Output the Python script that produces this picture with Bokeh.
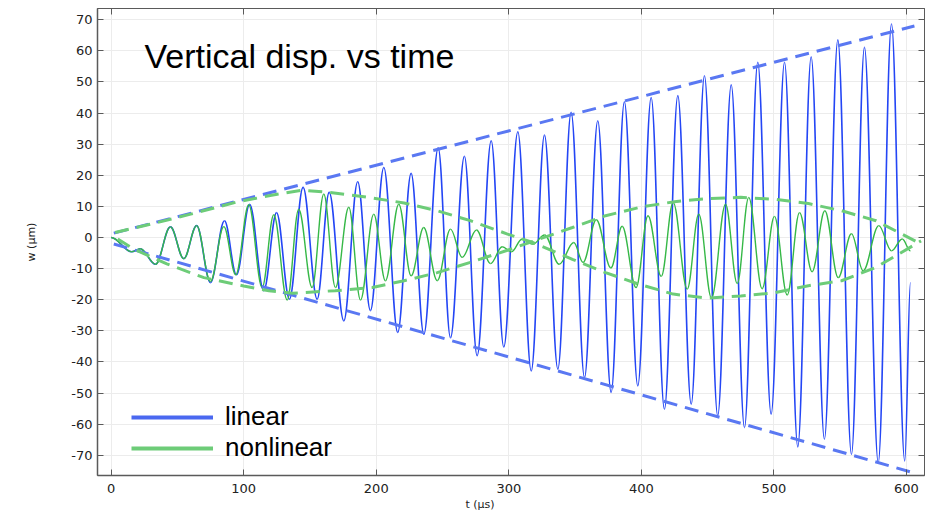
import numpy as np
from bokeh.plotting import figure
from bokeh.models import (ColumnDataSource, Range1d, FixedTicker, LinearAxis, Label,
                          Legend, LegendItem, Title, CustomLabelingPolicy)
from bokeh.embed import file_html
from bokeh.resources import INLINE

# ---------------- data ----------------
x_ticks = [0, 100, 200, 300, 400, 500, 600]
y_ticks = [-70, -60, -50, -40, -30, -20, -10, 0, 10, 20, 30, 40, 50, 60, 70]

# extrema of the linear response, t (µs), w (µm)
lin_t = [0, 15.5, 22, 33.5, 44.7, 54.8, 64.5, 74.9, 85.5, 94.5, 104.5, 115.1, 124.8,
         134.5, 144.8, 155.4, 164.5, 175.5, 186.0, 195.6, 205.7, 216.2, 226.3, 235.9,
         246.7, 256.0, 266.5, 276.1, 286.7, 296.2, 306.8, 316.9, 326.9, 337.0, 347.0,
         357.1, 367.1, 377.2, 387.2, 397.3, 407.4, 417.4, 427.5, 437.6, 447.6, 457.6,
         467.8, 477.8, 487.8, 497.9, 508.0, 518.0, 528.1, 538.1, 548.2, 558.5, 568.3,
         578.7, 588.7, 598.7, 603.0]
lin_w = [0, -4.6, -3.6, -8.6, 3.4, -6.8, 3.8, -14.5, 5.4, -12.0, 10.7, -17.1, 8.0,
         -19.8, 16.1, -19.8, 14.5, -26.8, 17.9, -23.5, 22.5, -30.5, 20.6, -31.1,
         28.8, -32.2, 26.1, -38.0, 31.1, -35.2, 34.0, -42.9, 32.9, -42.3, 40.2,
         -45.0, 37.5, -49.8, 43.6, -47.7, 45.0, -55.2, 45.6, -53.6, 52.0, -57.3,
         49.1, -61.1, 56.3, -56.8, 56.3, -67.3, 58.1, -64.8, 63.5, -69.7, 61.1,
         -72.4, 68.6, -71.8, -14.5]

# extrema of the nonlinear response
non_t = [0, 15.5, 22, 33.5, 44.7, 54.8, 64.5, 74.9, 85.0, 94.0, 103.8, 113.9, 122.7,
         132.8, 141.5, 151.6, 160.4, 169.2, 179.3, 188.1, 198.1, 206.9, 217.0, 226.3,
         235.8, 246.0, 256.0, 264.8, 275.6, 286.2, 295.0, 302.0, 310.0, 318.0, 327.0,
         338.0, 349.0, 356.0, 366.0, 377.0, 385.5, 396.0, 405.0, 415.0, 424.0, 434.6,
         443.3, 452.9, 463.5, 472.3, 481.0, 491.1, 500.4, 510.0, 519.3, 528.8, 538.4,
         548.5, 558.5, 567.3, 579.1, 588.7, 596.8, 603.0]
non_w = [0, -4.6, -3.6, -8.6, 3.4, -6.8, 3.8, -14.2, 3.5, -12.0, 10.5, -16.1, 7.3,
         -20.1, 9.1, -16.1, 14.0, -16.1, 9.7, -20.1, 7.5, -13.9, 10.7, -12.3,
         3.2, -13.9, 2.7, -6.4, 2.4, -8.4, -3.0, -4.6, -0.5, -2.2, 0.8,
         -8.6, -1.6, -8.0, 5.7, -9.8, 3.6, -16.1, 7.0, -12.5, 11.3, -16.6,
         7.5, -19.5, 10.7, -14.8, 12.9, -16.5, 6.8, -18.5, 8.0, -11.0, 8.6,
         -12.9, 1.2, -10.7, 3.8, -4.3, -0.5, -4.3]

# envelopes of the linear response (straight lines)
lin_env_t = [2, 606]
lin_env_upper = [1.4, 68.0]
lin_env_lower = [-2.1, -75.7]

# envelopes of the nonlinear response
non_env1_t = [3, 30, 60, 94, 120, 144, 164, 194, 221, 246, 271, 299, 318, 348, 373,
              398, 424, 450, 475, 500, 526, 551, 577, 611]
non_env1_w = [1.6, 4.3, 7.5, 11.3, 13.5, 15.2, 14.5, 12.9, 11.1, 8.6, 5.4, 1.1, -1.6,
              -7.0, -11.3, -15.0, -18.2, -19.5, -18.8, -17.8, -15.5, -13.9, -9.6, -1.1]
non_env2_t = [5, 17, 42, 70, 100, 119, 137, 169, 197, 221, 246, 271, 299, 323, 348,
              373, 400, 425, 450, 475, 500, 526, 551, 577, 611]
non_env2_w = [-0.5, -3.7, -8.5, -12.9, -15.6, -17.1, -17.9, -17.1, -16.1, -13.9, -11.3,
              -8.0, -4.1, -0.5, 3.2, 7.0, 9.8, 11.5, 12.5, 12.9, 12.3, 10.9, 8.6, 5.4, -2.1]

series_names = ["linear", "nonlinear"]


def bezier_source(t, w, k=0.364):
    t = np.asarray(t, float)
    w = np.asarray(w, float)
    dt = np.diff(t)
    return ColumnDataSource(dict(
        x0=t[:-1], y0=w[:-1], x1=t[1:], y1=w[1:],
        cx0=t[:-1] + k * dt, cy0=w[:-1],
        cx1=t[1:] - k * dt, cy1=w[1:]))


BLUE = "#2446f5"
GREEN = "#36b847"
BLUE_D = "#5a78f2"
GREEN_D = "#6dcc78"
BLUE_L = "#4a68f0"
AXC = "#5a5a5a"
TICKFONT = "DejaVu Sans"

p = figure(width=929, height=513, output_backend="svg", toolbar_location=None,
           x_range=Range1d(-10.3, 613.6), y_range=Range1d(-76.5, 73.6),
           min_border_left=97, min_border_right=5, min_border_top=8, min_border_bottom=38)
p.background_fill_color = "white"
p.border_fill_color = "white"
p.outline_line_color = AXC
p.outline_line_width = 1

xt = FixedTicker(ticks=x_ticks)
yt = FixedTicker(ticks=y_ticks)

for ax, tk, ticks in ((p.xaxis[0], xt, x_ticks), (p.yaxis[0], yt, y_ticks)):
    ax.ticker = tk
    ax.major_tick_in = 6
    ax.major_tick_out = 0
    ax.minor_tick_line_color = None
    ax.major_tick_line_color = AXC
    ax.axis_line_color = AXC
    ax.axis_line_width = 1.5
    ax.major_label_text_font = TICKFONT
    ax.major_label_text_font_size = "13px"
    ax.major_label_text_color = "#222222"
    ax.major_label_overrides = {t: str(t) for t in ticks}

p.xaxis[0].major_label_standoff = 8
p.yaxis[0].major_label_standoff = 5
p.yaxis[0].axis_label = "w (µm)"
p.yaxis[0].axis_label_text_font = TICKFONT
p.yaxis[0].axis_label_text_font_size = "11px"
p.yaxis[0].axis_label_text_font_style = "normal"
p.yaxis[0].axis_label_text_color = "#222222"
p.yaxis[0].axis_label_standoff = 30

hide_all = "for (const i of indices) indices.unset(i)"
for side, tk in (("above", xt), ("right", yt)):
    ax = LinearAxis(ticker=tk, major_tick_in=6, major_tick_out=0,
                    minor_tick_line_color=None, major_tick_line_color=AXC,
                    axis_line_color=AXC, axis_line_width=1,
                    major_label_text_font_size="1px", major_label_standoff=0,
                    major_label_policy=CustomLabelingPolicy(code=hide_all))
    p.add_layout(ax, side)

p.xgrid.grid_line_color = "#ececec"
p.ygrid.grid_line_color = "#ececec"

# solid responses
p.bezier(x0="x0", y0="y0", x1="x1", y1="y1", cx0="cx0", cy0="cy0", cx1="cx1", cy1="cy1",
         source=bezier_source(lin_t, lin_w), line_color=BLUE, line_width=1.6)
p.bezier(x0="x0", y0="y0", x1="x1", y1="y1", cx0="cx0", cy0="cy0", cx1="cx1", cy1="cy1",
         source=bezier_source(non_t, non_w), line_color=GREEN, line_width=1.4)

# envelopes
p.line(lin_env_t, lin_env_upper, line_color=BLUE_D, line_width=3, line_dash="14 8")
p.line(lin_env_t, lin_env_lower, line_color=BLUE_D, line_width=3, line_dash="14 8")
p.line(non_env1_t, non_env1_w, line_color=GREEN_D, line_width=3, line_dash="14 8")
p.line(non_env2_t, non_env2_w, line_color=GREEN_D, line_width=3, line_dash="14 8")

# legend proxies (no visible data)
lb = p.line(x=np.array([np.nan]), y=np.array([np.nan]), line_color=BLUE_L, line_width=4)
lg = p.line(x=np.array([np.nan]), y=np.array([np.nan]), line_color=GREEN_D, line_width=4)
legend = Legend(items=[LegendItem(label=series_names[0], renderers=[lb]),
                       LegendItem(label=series_names[1], renderers=[lg])],
                location=(34, 12), glyph_width=82, glyph_height=26, label_height=26,
                label_standoff=12, spacing=-6, padding=0, margin=0,
                label_text_font="Liberation Sans", label_text_font_size="26px",
                label_text_color="black", border_line_color=None,
                background_fill_alpha=0)
p.add_layout(legend)

p.add_layout(Label(x=47, y=420, x_units="screen", y_units="screen",
                   text="Vertical disp. vs time", text_font="Liberation Sans",
                   text_font_size="34px", text_color="black", text_baseline="alphabetic"))

p.add_layout(Title(text="t (µs)", align="left", offset=368, standoff=0,
                   text_font=TICKFONT, text_font_size="11px", text_font_style="normal",
                   text_color="#222222"), "below")

open("out.html", "w").write(file_html(p, INLINE))
